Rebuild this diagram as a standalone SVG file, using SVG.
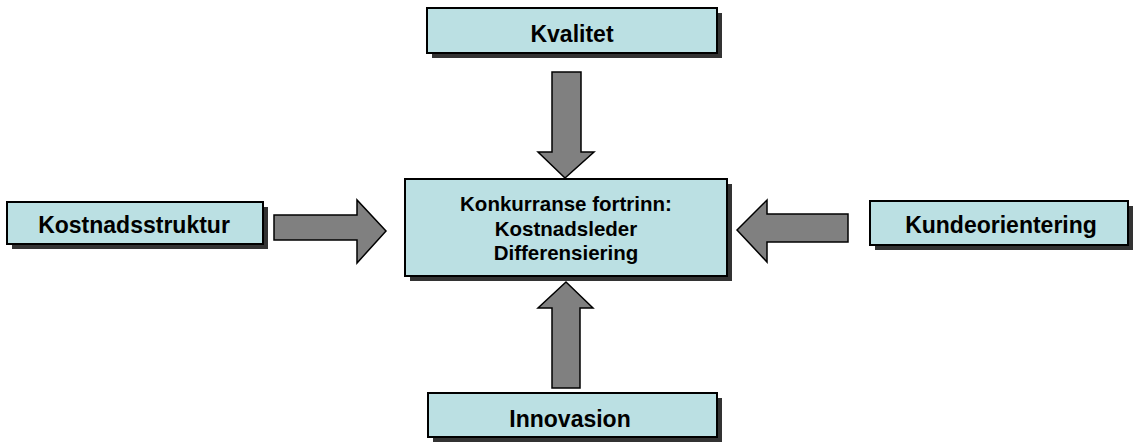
<svg xmlns="http://www.w3.org/2000/svg" width="1134" height="442" viewBox="0 0 1134 442">
<style>
.shadow{fill:#333333}
.box{fill:#BBE0E3;stroke:#000;stroke-width:2}
.lbl{font-family:"Liberation Sans",Arial,sans-serif;font-weight:bold;font-size:23px;fill:#000;text-anchor:middle}
.clbl{font-family:"Liberation Sans",Arial,sans-serif;font-weight:bold;font-size:20.5px;fill:#000;text-anchor:middle}
.arrow{fill:#808080;stroke:#000;stroke-width:1.5;stroke-linejoin:miter}
</style>
<rect width="1134" height="442" fill="#fff"/>
<g id="connectors">
<polygon class="arrow" points="552,72 581,72 581,152 594,152 565,178 538,152 552,152"/>
<polygon class="arrow" points="566,282 593,308 580,308 580,388 552,388 552,308 538,308"/>
<polygon class="arrow" points="274,215 357,215 357,200 386,231 357,263 357,240 274,240"/>
<polygon class="arrow" points="737,230 767,200 767,214 848,214 848,242 767,242 767,262"/>
</g>
<g id="kvalitet">
<rect class="shadow" x="432" y="13" width="290" height="45"/>
<rect class="box" x="427" y="8" width="290" height="45"/>
<text class="lbl" x="572" y="42">Kvalitet</text>
</g>
<g id="konkurranse">
<rect class="shadow" x="410" y="184" width="322" height="97"/>
<rect class="box" x="405" y="179" width="322" height="97"/>
<text class="clbl" x="566" y="211">Konkurranse fortrinn:</text>
<text class="clbl" x="566" y="236">Kostnadsleder</text>
<text class="clbl" x="566" y="260">Differensiering</text>
</g>
<g id="kostnadsstruktur">
<rect class="shadow" x="12" y="207" width="256" height="42"/>
<rect class="box" x="7" y="202" width="256" height="42"/>
<text class="lbl" x="134" y="233">Kostnadsstruktur</text>
</g>
<g id="kundeorientering">
<rect class="shadow" x="875" y="206" width="258" height="44"/>
<rect class="box" x="870" y="201" width="258" height="44"/>
<text class="lbl" x="1001" y="233">Kundeorientering</text>
</g>
<g id="innovasion">
<rect class="shadow" x="433" y="398" width="289" height="44"/>
<rect class="box" x="428" y="393" width="289" height="44"/>
<text class="lbl" x="570" y="427">Innovasion</text>
</g>
</svg>
